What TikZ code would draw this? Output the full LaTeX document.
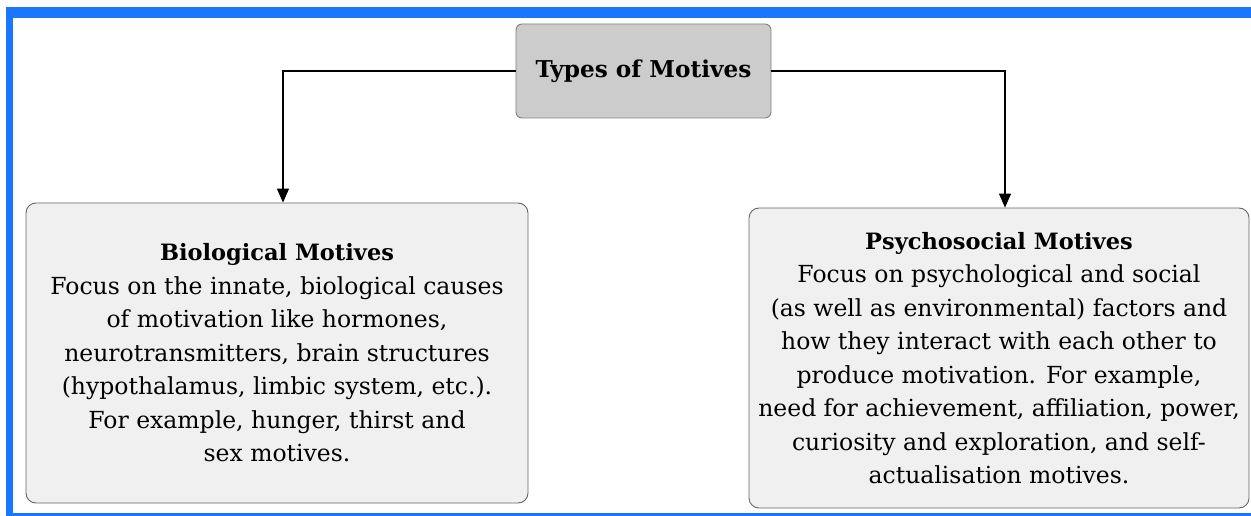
\documentclass[tikz,border=0pt]{standalone}
\usepackage{fontspec}
\setmainfont{DejaVu Serif}
\usepackage{xcolor}
\usepackage{tikz}
\usetikzlibrary{arrows.meta,positioning}

\definecolor{framblue}{HTML}{1A76FF}
\definecolor{headgray}{HTML}{CCCCCC}
\definecolor{boxgray}{HTML}{F0F0F0}
\newcommand{\motivetitle}[1]{{\fontsize{22.5}{33.5}\selectfont\bfseries #1}}

\begin{document}
\begin{tikzpicture}[
  x=1pt, y=-1pt,
  font=\fontsize{23.5}{33.5}\selectfont,
  head/.style={draw=black!50, rounded corners=6pt, fill=headgray, line width=0.9pt, minimum width=255pt, minimum height=94pt, align=center, font=\fontsize{23.2}{33}\selectfont\bfseries},
  motive/.style={draw=black!60, rounded corners=10pt, fill=boxgray, line width=0.9pt, minimum width=502pt, minimum height=300pt, align=center},
  arrow/.style={-{Triangle[length=14pt,width=12pt]}, line width=1.2pt}
]
\useasboundingbox (0,0) rectangle (1251,516);
% frame
\fill[framblue] (6,7) rectangle (1251,18);
\fill[framblue] (6,7) rectangle (13,516);
\fill[framblue] (6,513) rectangle (1251,516);

\node[head] (types) at (643.5,71) {Types of Motives};
\node[motive] (bio) at (277,353) {\motivetitle{Biological Motives}\\
Focus on the innate, biological causes\\
of motivation like hormones,\\
neurotransmitters, brain structures\\
(hypothalamus, limbic system, etc.).\\
For example, hunger, thirst and\\
sex motives.};
\node[motive, minimum width=500pt] (psycho) at (999,358) {\motivetitle{Psychosocial Motives}\\
Focus on psychological and social\\
(as well as environmental) factors and\\
how they interact with each other to\\
produce motivation. For example,\\
need for achievement, affiliation, power,\\
curiosity and exploration, and self-\\
actualisation motives.};

\draw[arrow] (types.west) -| ([xshift=6pt]bio.north);
\draw[arrow] (types.east) -| ([xshift=6pt]psycho.north);
\end{tikzpicture}
\end{document}
